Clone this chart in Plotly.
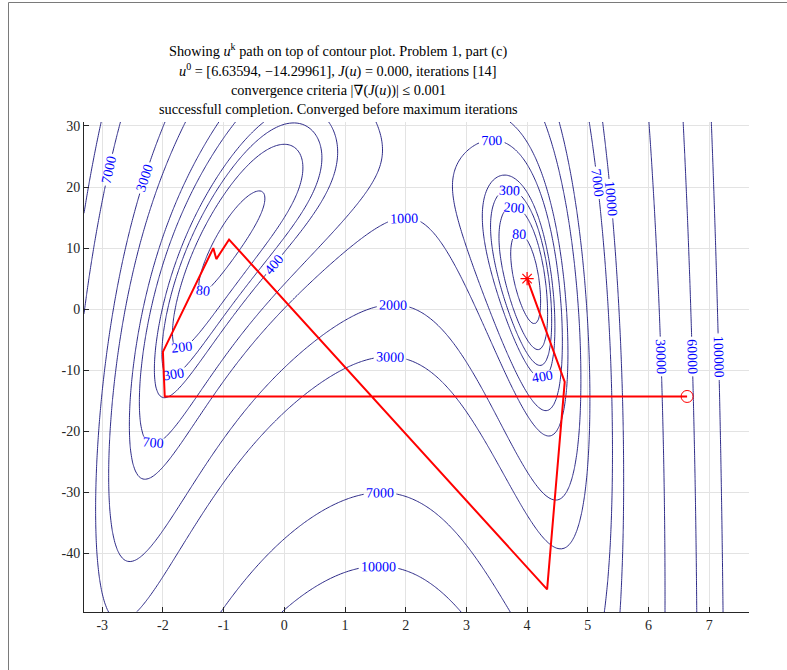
import numpy as np
import plotly.graph_objects as go

# ---- data ----
# contour levels shown in the chart
levels = [80, 200, 300, 400, 700, 1000, 2000, 3000, 7000, 10000, 30000, 60000, 100000]
# path of iterates u^k
path_u1 = [6.63594, -1.97, -2.00, -1.17, -1.12, -0.91, 4.33, 4.62, 4.00]
path_u2 = [-14.29961, -14.29961, -7.0, 10.0, 8.2, 11.4, -45.9, -11.9, 5.0]
x_ticks = [-3, -2, -1, 0, 1, 2, 3, 4, 5, 6, 7]
y_ticks = [-40, -30, -20, -10, 0, 10, 20, 30]
x_range = [-3.3, 7.656]
y_range = [-49.6, 30.65]


def J(u1, u2):
    a = -13 + u2 + ((5 - u1) * u1 - 2) * u1
    b = -29 + u2 + ((u1 + 1) * u1 - 14) * u1
    return a ** 2 + b ** 2


gx = np.linspace(x_range[0], x_range[1], 260)
gy = np.linspace(y_range[0], y_range[1], 220)
X, Y = np.meshgrid(gx, gy)
Z = J(X, Y).astype(np.float32)

serif = "Liberation Serif, DejaVu Serif, serif"
fig = go.Figure()
for L in levels:
    fig.add_trace(go.Contour(
        x=gx.astype(np.float32), y=gy.astype(np.float32), z=Z,
        autocontour=False,
        contours=dict(start=L, end=L, size=1, coloring="none", showlabels=True,
                      labelformat="d",
                      labelfont=dict(color="#0000ff", size=14, family=serif)),
        line=dict(color="#2e2b88", width=1),
        showscale=False, hoverinfo="skip",
    ))

fig.add_trace(go.Scatter(x=path_u1, y=path_u2, mode="lines",
                         line=dict(color="#ff0000", width=2), hoverinfo="skip"))
fig.add_trace(go.Scatter(x=[path_u1[0]], y=[path_u2[0]], mode="markers",
                         marker=dict(symbol="circle-open", size=12, color="#ff0000",
                                     line=dict(width=1, color="#ff0000"))))
fig.add_trace(go.Scatter(x=[path_u1[-1]], y=[path_u2[-1]], mode="markers",
                         marker=dict(symbol="asterisk-open", size=11, color="#ff0000",
                                     line=dict(width=1.2, color="#ff0000"))))

W, H = 787, 670
ml, mr, mt, mb = 84, 38, 122, 58
pw = W - ml - mr
ph = H - mt - mb

title_lines = [
    "Showing <i>u</i><sup>k</sup> path on top of contour plot. Problem 1, part (c)",
    "<i>u</i><sup>0</sup> = [6.63594, \u221214.29961], <i>J</i>(<i>u</i>) = 0.000, iterations [14]",
    "convergence criteria |\u2207(<i>J</i>(<i>u</i>))| \u2264 0.001",
    "successfull completion. Converged before maximum iterations",
]
title_y = [50.7, 70.7, 90.0, 109.0]
annotations = []
for t, ypix in zip(title_lines, title_y):
    annotations.append(dict(
        text=t, xref="paper", yref="paper",
        x=(338 - ml) / pw, y=1 + (mt - ypix) / ph,
        xanchor="center", yanchor="middle", showarrow=False,
        font=dict(family=serif, size=14.3, color="#000000")))

shapes = [
    dict(type="line", xref="paper", yref="paper",
         x0=(8.5 - ml) / pw, x1=(8.5 - ml) / pw, y0=1 + (mt - 2.5) / ph, y1=-(mb + 5) / ph,
         line=dict(color="#7a7a7a", width=1)),
    dict(type="line", xref="paper", yref="paper",
         x0=(8.5 - ml) / pw, x1=1 + (mr + 5) / pw, y0=1 + (mt - 2.5) / ph, y1=1 + (mt - 2.5) / ph,
         line=dict(color="#7a7a7a", width=1)),
]

axis_common = dict(showgrid=True, gridcolor="#e3e3e3", gridwidth=1,
                   showline=True, linecolor="#262626", linewidth=1,
                   ticks="inside", ticklen=5, tickcolor="#262626",
                   tickfont=dict(family=serif, size=14, color="#262626"),
                   zeroline=False, mirror=False)
fig.update_layout(
    width=W, height=H, autosize=False,
    margin=dict(l=ml, r=mr, t=mt, b=mb, pad=0),
    paper_bgcolor="white", plot_bgcolor="white",
    showlegend=False,
    xaxis=dict(range=x_range, tickvals=x_ticks, ticktext=[str(v) for v in x_ticks], **axis_common),
    yaxis=dict(range=y_range, tickvals=y_ticks, ticktext=[str(v) for v in y_ticks], **axis_common),
    annotations=annotations, shapes=shapes,
)
fig.write_html("out.html")
